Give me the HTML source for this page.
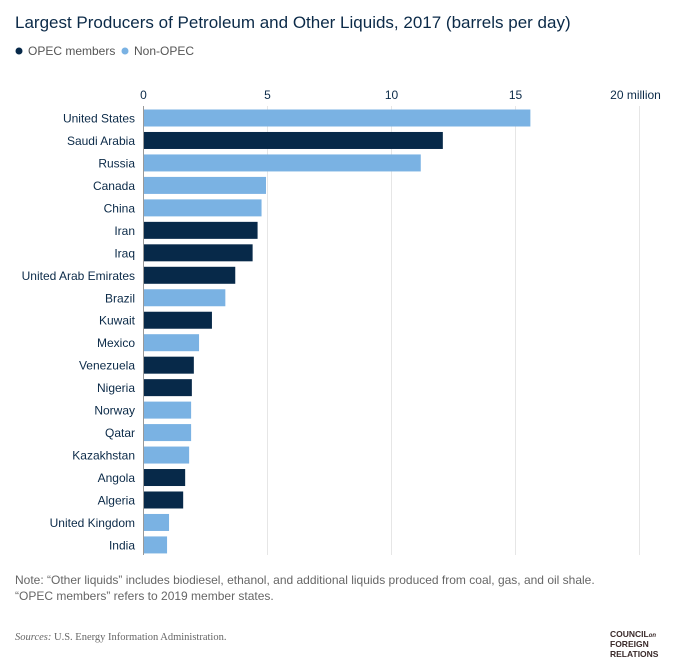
<!DOCTYPE html>
<html><head><meta charset="utf-8"><style>
body{margin:0;background:#fff;font-family:"Liberation Sans",sans-serif;}
#wrap{position:relative;width:680px;height:672px;overflow:hidden;}
</style></head><body>
<div id="wrap">
<svg id="chart" width="680" height="672">
<text x="15" y="28" font-size="17" fill="#0b2a48">Largest Producers of Petroleum and Other Liquids, 2017 (barrels per day)</text>
<g>
<circle cx="19" cy="51" r="3.5" fill="#072949"/>
<text x="28" y="55" font-size="12" fill="#555">OPEC members</text>
<circle cx="125" cy="51" r="3.5" fill="#7ab2e3"/>
<text x="134" y="55" font-size="12" fill="#555">Non-OPEC</text>
</g>
<g id="grid"></g><g id="bars"></g><g id="labels"></g>
<text x="15" y="584" font-size="12" fill="#666">Note: “Other liquids” includes biodiesel, ethanol, and additional liquids produced from coal, gas, and oil shale.</text>
<text x="15" y="600" font-size="12" fill="#666">“OPEC members” refers to 2019 member states.</text>
<text x="15" y="640" font-size="10.5" fill="#666" font-family="Liberation Serif,serif"><tspan font-style="italic">Sources:</tspan> U.S. Energy Information Administration.</text>
<g font-size="8.5" font-weight="bold" fill="#3a2a2a">
<text x="610" y="637">COUNCIL<tspan font-size="6" font-style="italic">on</tspan></text>
<text x="610" y="647">FOREIGN</text>
<text x="610" y="657">RELATIONS</text>
</g>
</svg>
</div>
<script>
const categories=["United States","Saudi Arabia","Russia","Canada","China","Iran","Iraq","United Arab Emirates","Brazil","Kuwait","Mexico","Venezuela","Nigeria","Norway","Qatar","Kazakhstan","Angola","Algeria","United Kingdom","India"];
const values=[15.6,12.07,11.18,4.94,4.76,4.6,4.4,3.7,3.3,2.76,2.24,2.03,1.95,1.92,1.92,1.84,1.68,1.6,1.03,0.95];
const opec=[0,1,0,0,0,1,1,1,0,1,0,1,1,0,0,0,1,1,0,0];
const ticks=[0,5,10,15,20];
const tickLabels=["0","5","10","15","20 million"];
const NS="http://www.w3.org/2000/svg";
const x0=143.5,pxPer=24.8;
function xs(v){return x0+v*pxPer;}
function yc(i){return 118+i*22.47;}
const grid=document.getElementById('grid'),bars=document.getElementById('bars'),labels=document.getElementById('labels');
ticks.forEach((t,i)=>{
 const l=document.createElementNS(NS,'line');
 l.setAttribute('x1',xs(t));l.setAttribute('x2',xs(t));l.setAttribute('y1',106);l.setAttribute('y2',555);
 l.setAttribute('stroke',i==0?'#999':'#e6e6e6');l.setAttribute('stroke-width',1);
 
 
 grid.appendChild(l);
 const tx=document.createElementNS(NS,'text');
 tx.setAttribute('x',i==ticks.length-1?xs(t)-4:xs(t));tx.setAttribute('y',99);tx.setAttribute('font-size','12');tx.setAttribute('fill','#0b2a48');
 tx.setAttribute('text-anchor','middle');
 tx.textContent=tickLabels[i];
 
 
 grid.appendChild(tx);
});
categories.forEach((c,i)=>{
 const r=document.createElementNS(NS,'rect');
 r.setAttribute('x',x0+0.5);r.setAttribute('y',yc(i)-8.5);r.setAttribute('height',17);
 r.setAttribute('width',xs(values[i])-x0-0.5);
 r.setAttribute('fill',opec[i]?'#072949':'#7ab2e3');
 
 
 bars.appendChild(r);
 const t=document.createElementNS(NS,'text');
 t.setAttribute('x',135);t.setAttribute('y',yc(i)+4.5);t.setAttribute('text-anchor','end');
 t.setAttribute('font-size','12');t.setAttribute('fill','#0b2a48');
 t.textContent=c;
 
 
 labels.appendChild(t);
});
</script>
</body></html>
